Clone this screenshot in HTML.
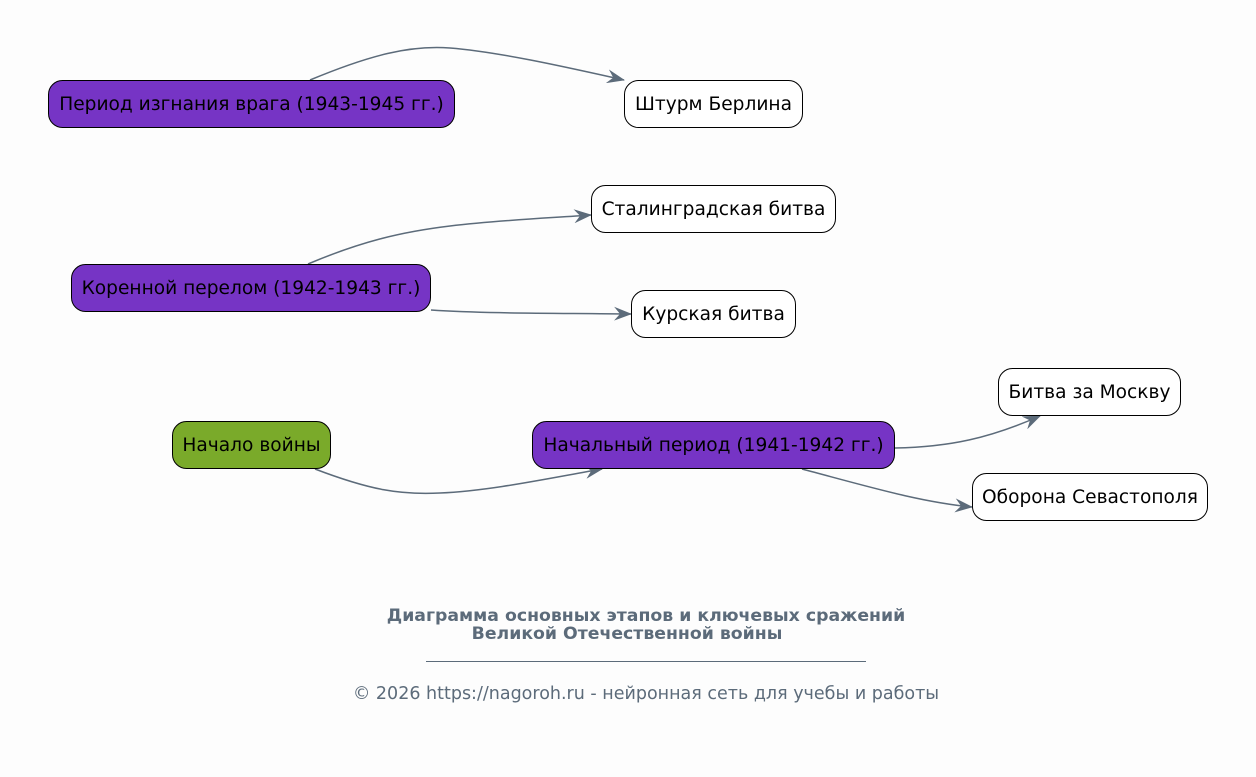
<!DOCTYPE html>
<html><head><meta charset="utf-8"><style>
html,body{margin:0;padding:0;background:#fdfdfd;}
svg{display:block;}
text{font-family:"DejaVu Sans","Liberation Sans",sans-serif;}
.n{font-size:18.6px;}
.t{font-size:17.3px;font-weight:bold;}
.f{font-size:17.5px;}
</style></head><body>
<svg width="1256" height="777" viewBox="0 0 1256 777" xmlns="http://www.w3.org/2000/svg">
<defs>
<marker id="a" markerWidth="20" markerHeight="14" refX="17" refY="7" orient="auto" markerUnits="userSpaceOnUse">
<path d="M0,0 L18,7 L0,14 L6,7 Z" fill="#5c6b7a"/>
</marker>
</defs>
<rect width="1256" height="777" fill="#fdfdfd"/>
<g fill="none" stroke="#5c6b7a" stroke-width="1.5">
<path d="M310,80 C370,55 410,45 450,48 C500,52 570,68 624,80" marker-end="url(#a)"/>
<path d="M308,264 C360,242 400,232 450,226 C500,220 550,218 591,215" marker-end="url(#a)"/>
<path d="M431,310 C490,314 570,313 631,314" marker-end="url(#a)"/>
<path d="M315,469 C370,490 400,495 440,493 C490,491 550,478 602,469" marker-end="url(#a)"/>
<path d="M895,448 C950,447 990,438 1040,416" marker-end="url(#a)"/>
<path d="M802,469 C870,487 920,502 972,507" marker-end="url(#a)"/>
</g>
<g stroke="#000" stroke-width="1">
<rect x="48.5" y="80.5" width="406" height="47" rx="14" fill="#7634c5"/>
<rect x="624.5" y="80.5" width="178" height="47" rx="14" fill="#fff"/>
<rect x="591.5" y="185.5" width="244" height="47" rx="14" fill="#fff"/>
<rect x="71.5" y="264.5" width="359" height="47" rx="14" fill="#7634c5"/>
<rect x="631.5" y="290.5" width="164" height="47" rx="14" fill="#fff"/>
<rect x="998.5" y="368.5" width="182" height="47" rx="14" fill="#fff"/>
<rect x="172.5" y="421.5" width="158" height="47" rx="14" fill="#7aaa2a"/>
<rect x="532.5" y="421.5" width="362" height="47" rx="14" fill="#7634c5"/>
<rect x="972.5" y="473.5" width="235" height="47" rx="14" fill="#fff"/>
</g>
<g class="n" fill="#000" text-anchor="middle">
<text x="251.5" y="110">Период изгнания врага (1943-1945 гг.)</text>
<text x="713.5" y="110">Штурм Берлина</text>
<text x="713.5" y="215">Сталинградская битва</text>
<text x="251" y="294">Коренной перелом (1942-1943 гг.)</text>
<text x="713.5" y="320">Курская битва</text>
<text x="1089.5" y="398">Битва за Москву</text>
<text x="251.5" y="451">Начало войны</text>
<text x="713.5" y="451">Начальный период (1941-1942 гг.)</text>
<text x="1090" y="503">Оборона Севастополя</text>
</g>
<g fill="#5c6b7a" text-anchor="middle">
<text class="t" x="646" y="621">Диаграмма основных этапов и ключевых сражений</text>
<text class="t" x="627" y="639">Великой Отечественной войны</text>
<line x1="426" y1="661.5" x2="866" y2="661.5" stroke="#5c6b7a" stroke-width="1"/>
<text class="f" x="646" y="699">© 2026 https://nagoroh.ru - нейронная сеть для учебы и работы</text>
</g>
</svg>
</body></html>
